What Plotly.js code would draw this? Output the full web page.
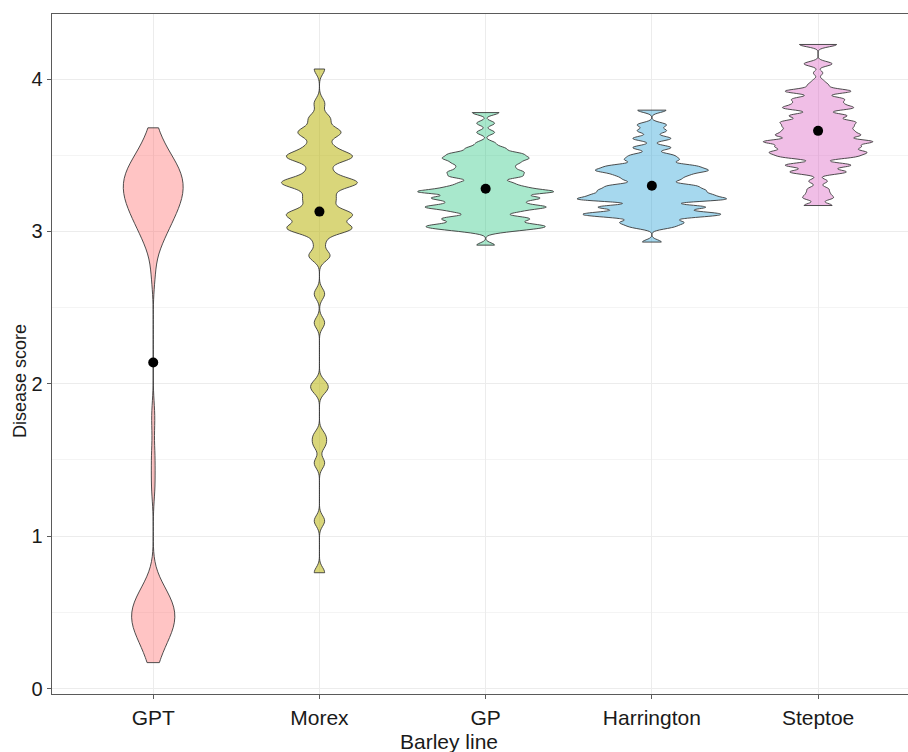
<!DOCTYPE html>
<html>
<head>
<meta charset="utf-8">
<script src="https://cdn.plot.ly/plotly-3.0.1.min.js"></script>
<style>
  html, body { margin: 0; padding: 0; background: #ffffff; overflow: hidden; }
  #chart { width: 908px; height: 752px; }
</style>
</head>
<body>
<div id="chart"></div>
<script>
// ---- Data ----
const categories = ["GPT", "Morex", "GP", "Harrington", "Steptoe"];
const xTitle = "Barley line";
const yTitle = "Disease score";

// Distinct disease-score values and how many plants scored each value
const gptValues   = [0.17, 0.3, 0.4, 0.5, 0.6, 0.7, 1.33, 1.52, 1.78, 2.72, 2.9, 3.0, 3.1, 3.2, 3.3, 3.4, 3.5, 3.6, 3.68];
const gptCounts   = [2, 4, 6, 7, 5, 2, 1, 1, 1, 1, 2, 4, 6, 8, 9, 8, 5, 2, 1];

const morexValues = [0.76, 1.10, 1.48, 1.60, 1.66, 1.96, 2.00, 2.40, 2.59, 2.84, 2.93, 3.02, 3.11, 3.19, 3.24, 3.32, 3.40, 3.49, 3.56, 3.65, 3.74, 3.84, 4.066];
const morexCounts = [1, 1, 1, 1, 1, 1, 1, 1, 1, 2, 1, 6, 6, 2, 2, 7, 2, 6, 2, 4, 2, 1, 1];

const gpValues    = [2.91, 3.00, 3.02, 3.04, 3.07, 3.09, 3.13, 3.16, 3.19, 3.22, 3.26, 3.29, 3.32, 3.36, 3.39, 3.42, 3.45, 3.48, 3.51, 3.545, 3.58, 3.65, 3.71, 3.78];
const gpCounts    = [2, 3, 7, 9, 5, 7, 6, 12, 6, 11, 14, 7, 5, 7, 7, 5, 6, 8, 7, 4, 2, 2, 2, 3];

const harValues   = [2.93, 3.03, 3.06, 3.10, 3.12, 3.16, 3.21, 3.24, 3.27, 3.30, 3.34, 3.37, 3.40, 3.43, 3.47, 3.50, 3.55, 3.61, 3.66, 3.70, 3.796];
const harCounts   = [2, 4, 6, 8, 10, 11, 14, 10, 9, 8, 5, 6, 10, 8, 5, 4, 4, 4, 3, 3, 3];

const stepValues  = [3.17, 3.22, 3.25, 3.28, 3.33, 3.39, 3.435, 3.49, 3.52, 3.555, 3.59, 3.63, 3.66, 3.69, 3.72, 3.76, 3.81, 3.84, 3.87, 3.92, 3.96, 3.99, 4.04, 4.10, 4.227];
const stepCounts  = [3, 3, 2, 2, 2, 6, 7, 7, 9, 8, 11, 8, 6, 6, 7, 6, 7, 4, 5, 7, 2, 1, 1, 3, 4];

// Group means (black dots)
const meanScores  = [2.14, 3.13, 3.28, 3.30, 3.66];

// ---- Styling (kept separate from the data) ----
const fillColors  = ["rgba(255,108,108,0.40)", "rgba(186,180,13,0.55)", "rgba(38,198,128,0.40)", "rgba(32,158,212,0.40)", "rgba(218,92,192,0.40)"];
const bandwidths  = [0.1, 0.035, 0.015, 0.015, 0.015];
const violinWidth = [0.36, 0.457, 0.818, 0.90, 0.66];

const groups = [
  [gptValues, gptCounts],
  [morexValues, morexCounts],
  [gpValues, gpCounts],
  [harValues, harCounts],
  [stepValues, stepCounts]
];

function expand(values, counts) {
  const out = [];
  values.forEach((v, i) => { for (let k = 0; k < counts[i]; k++) out.push(v); });
  return out;
}

const traces = groups.map((g, i) => {
  const ys = expand(g[0], g[1]);
  return {
    type: "violin",
    x: ys.map(() => categories[i]),
    y: ys,
    name: categories[i],
    bandwidth: bandwidths[i],
    spanmode: "hard",
    scalemode: "width",
    width: violinWidth[i],
    points: false,
    box: { visible: false },
    meanline: { visible: false },
    fillcolor: fillColors[i],
    line: { color: "#3a3a3a", width: 0.9 },
    hoverinfo: "skip",
    showlegend: false
  };
});

traces.push({
  type: "scatter",
  mode: "markers",
  x: categories,
  y: meanScores,
  marker: { color: "#000000", size: 10 },
  hoverinfo: "skip",
  showlegend: false
});

const font = "Liberation Sans, Arial, Helvetica, sans-serif";
const textColor = "#1a1a1a";

const layout = {
  width: 908,
  height: 752,
  margin: { l: 52, r: 0, t: 14, b: 58 },
  paper_bgcolor: "#ffffff",
  plot_bgcolor: "#ffffff",
  violinmode: "overlay",
  showlegend: false,
  font: { family: font, color: textColor },
  xaxis: {
    type: "category",
    categoryorder: "array",
    categoryarray: categories,
    range: [-0.609, 4.541],
    showline: true,
    linecolor: "#5a5a5a",
    linewidth: 1.3,
    mirror: true,
    ticks: "outside",
    ticklen: 4,
    tickcolor: "#5a5a5a",
    showgrid: true,
    gridcolor: "#ececec",
    gridwidth: 1,
    zeroline: false,
    tickfont: { size: 21, family: font, color: textColor }
  },
  yaxis: {
    range: [-0.036, 4.427],
    tickvals: [0, 1, 2, 3, 4],
    ticktext: ["0", "1", "2", "3", "4"],
    showline: true,
    linecolor: "#5a5a5a",
    linewidth: 1.3,
    mirror: false,
    ticks: "outside",
    ticklen: 4,
    tickcolor: "#5a5a5a",
    showgrid: true,
    gridcolor: "#ececec",
    gridwidth: 1,
    zeroline: false,
    minor: { tickvals: [0.5, 1.5, 2.5, 3.5], showgrid: true, gridcolor: "#f4f4f4", gridwidth: 1, ticks: "" },
    tickfont: { size: 20, family: font, color: textColor }
  },
  annotations: [
    {
      text: xTitle, xref: "paper", yref: "paper", x: (449 - 52) / 856, y: -(741 - 694) / 680,
      xanchor: "center", yanchor: "middle", showarrow: false,
      font: { size: 21, family: font, color: textColor }
    },
    {
      text: yTitle, xref: "paper", yref: "paper", x: -(52 - 20) / 856, y: (694 - 381) / 680,
      xanchor: "center", yanchor: "middle", showarrow: false, textangle: -90,
      font: { size: 18, family: font, color: textColor }
    }
  ]
};

Plotly.newPlot("chart", traces, layout, { staticPlot: true, displayModeBar: false });
</script>
</body>
</html>
